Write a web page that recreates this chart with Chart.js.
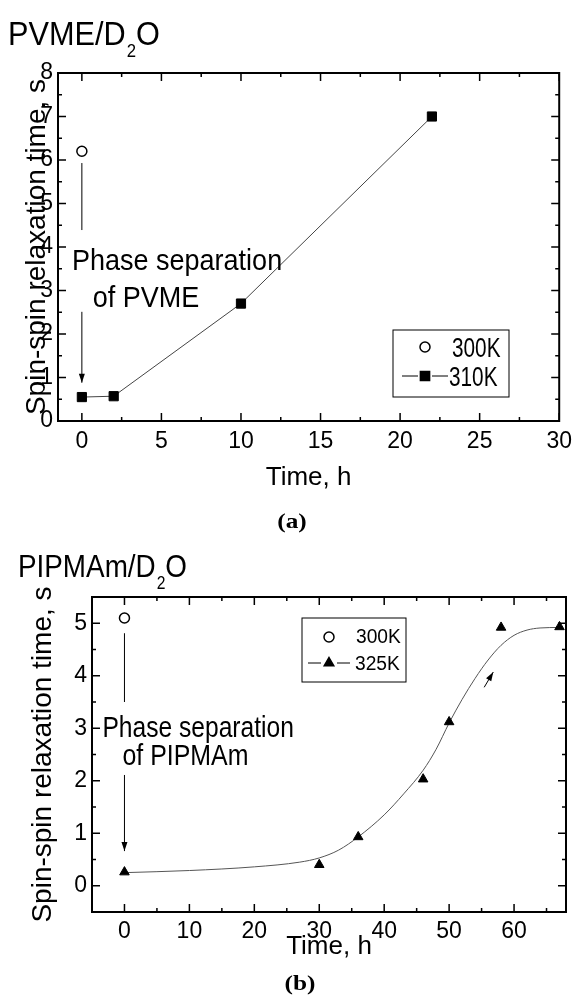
<!DOCTYPE html>
<html>
<head>
<meta charset="utf-8">
<title>Spin-spin relaxation time</title>
<script src="https://cdn.jsdelivr.net/npm/chart.js@4.4.1/dist/chart.umd.min.js"></script>
<style>
  body { margin: 0; background: #fff; }
  .panel { position: absolute; left: 0; width: 579px; }
  #panelA { top: 0; height: 540px; }
  #panelB { top: 540px; height: 461px; }
</style>
</head>
<body>
<div class="panel" id="panelA"><canvas id="chartA"></canvas></div>
<div class="panel" id="panelB"><canvas id="chartB"></canvas></div>
<script>
// (a) PVME/D2O
const timeA300 = [0];
const t2A300 = [6.2];
const timeA310 = [0, 2, 10, 22];
const t2A310 = [0.55, 0.57, 2.7, 7.0];
const xTicksA = [0, 5, 10, 15, 20, 25, 30];
const yTicksA = [0, 1, 2, 3, 4, 5, 6, 7, 8];

// (b) PIPMAm/D2O
const timeB300 = [0];
const t2B300 = [5.1];
const timeB325 = [0, 30, 36, 46, 50, 58, 67];
const t2B325 = [0.26, 0.4, 0.93, 2.03, 3.12, 4.92, 4.93];
// guide curve
const fitTimeB = [0, 10, 20, 27, 30, 33, 36, 40, 43, 46, 48, 50, 52, 54, 56, 58, 60, 62, 64, 67];
const fitT2B = [0.25, 0.29, 0.36, 0.45, 0.53, 0.68, 0.93, 1.35, 1.75, 2.2, 2.6, 3.1, 3.55, 3.95, 4.3, 4.58, 4.77, 4.87, 4.91, 4.92];
const xTicksB = [0, 10, 20, 30, 40, 50, 60];
const yTicksB = [0, 1, 2, 3, 4, 5];

const FONT = "'Liberation Sans', Arial, Helvetica, sans-serif";
const SERIF = "'Liberation Serif', 'Times New Roman', serif";

const pts = (xs, ys) => xs.map((x, i) => ({x: x, y: ys[i]}));
const useTicks = list => s => { s.ticks = list.map(v => ({value: v})); };

function minorOf(list, min, max) {
  const step = list[1] - list[0];
  const out = [];
  for (let v = list[0] - step / 2; v <= max + 1e-9; v += step) {
    if (v >= min - 1e-9) out.push(v);
  }
  return out;
}

function label(ctx, str, x, y, size, sx, opts) {
  opts = opts || {};
  ctx.save();
  ctx.font = (opts.bold ? 'bold ' : '') + size + 'px ' + (opts.family || FONT);
  ctx.fillStyle = '#000';
  ctx.textBaseline = 'alphabetic';
  ctx.textAlign = opts.align || 'left';
  ctx.translate(x, y);
  ctx.scale(sx, 1);
  ctx.fillText(str, 0, 0);
  const w = ctx.measureText(str).width * sx;
  ctx.restore();
  return w;
}

function panelTitle(ctx, main, x, y, size, sx) {
  const w1 = label(ctx, main, x, y, size, sx);
  const w2 = label(ctx, '2', x + w1 + 1, y + 12, Math.round(size * 0.55), sx);
  label(ctx, 'O', x + w1 + w2 + 1, y, size, sx);
}

function arrow(ctx, x1, y1, x2, y2, head) {
  ctx.save();
  ctx.strokeStyle = '#000';
  ctx.fillStyle = '#000';
  ctx.lineWidth = 1;
  ctx.beginPath();
  ctx.moveTo(x1, y1);
  ctx.lineTo(x2, y2);
  ctx.stroke();
  if (head) {
    ctx.translate(x2, y2);
    ctx.rotate(Math.atan2(y2 - y1, x2 - x1));
    ctx.beginPath();
    ctx.moveTo(0, 0);
    ctx.lineTo(-9, -3);
    ctx.lineTo(-9, 3);
    ctx.closePath();
    ctx.fill();
  }
  ctx.restore();
}

function marker(ctx, style, r, x, y, fill) {
  ctx.save();
  ctx.fillStyle = fill;
  ctx.strokeStyle = '#000';
  ctx.lineWidth = 1.5;
  ctx.beginPath();
  if (style === 'circle') {
    ctx.arc(x, y, r, 0, Math.PI * 2);
  } else if (style === 'rect') {
    const s = r * Math.SQRT1_2;
    ctx.rect(x - s, y - s, 2 * s, 2 * s);
  } else {
    ctx.moveTo(x, y - r);
    ctx.lineTo(x + r * 0.866, y + r / 2);
    ctx.lineTo(x - r * 0.866, y + r / 2);
    ctx.closePath();
  }
  ctx.fill();
  ctx.stroke();
  ctx.restore();
}

// legend: box plus rows {index, y, mx, tx, ty, line}
function legendBox(chart, box, rows, size, sx) {
  const ctx = chart.ctx;
  ctx.save();
  ctx.strokeStyle = '#000';
  ctx.lineWidth = 1;
  ctx.strokeRect(box.x, box.y, box.w, box.h);
  rows.forEach(r => {
    const ds = chart.data.datasets[r.index];
    if (r.line) {
      ctx.beginPath();
      ctx.moveTo(r.mx - r.line[1], r.y);
      ctx.lineTo(r.mx - r.line[0], r.y);
      ctx.moveTo(r.mx + r.line[0], r.y);
      ctx.lineTo(r.mx + r.line[1], r.y);
      ctx.stroke();
    }
    marker(ctx, ds.pointStyle, ds.pointRadius, r.mx, r.y, ds.pointBackgroundColor);
    label(ctx, ds.label, r.tx, r.ty, size, sx);
  });
  ctx.restore();
}

const frame = {
  id: 'frame',
  beforeDatasetsDraw(chart) {
    const {ctx, chartArea: a, scales: {x, y}} = chart;
    const xMaj = x.ticks.map(t => t.value);
    const yMaj = y.ticks.map(t => t.value);
    ctx.save();
    ctx.strokeStyle = '#000';
    ctx.lineWidth = 1.5;
    ctx.beginPath();
    [[xMaj, 8], [minorOf(xMaj, x.min, x.max), 4]].forEach(([vals, len]) => vals.forEach(v => {
      const px = x.getPixelForValue(v);
      ctx.moveTo(px, a.bottom); ctx.lineTo(px, a.bottom - len);
      ctx.moveTo(px, a.top); ctx.lineTo(px, a.top + len);
    }));
    [[yMaj, 8], [minorOf(yMaj, y.min, y.max), 4]].forEach(([vals, len]) => vals.forEach(v => {
      const py = y.getPixelForValue(v);
      ctx.moveTo(a.left, py); ctx.lineTo(a.left + len, py);
      ctx.moveTo(a.right, py); ctx.lineTo(a.right - len, py);
    }));
    ctx.stroke();
    ctx.lineWidth = 2;
    ctx.strokeRect(a.left, a.top, a.right - a.left, a.bottom - a.top);
    ctx.restore();
  }
};

function axes(xMin, xMax, xTicks, yMin, yMax, yTicks, xHeight, yWidth, yTitlePad, xTitlePad, tickPad) {
  return {
    x: {
      type: 'linear', min: xMin, max: xMax,
      afterBuildTicks: useTicks(xTicks),
      afterFit: s => { s.height = xHeight; },
      grid: {display: false, drawTicks: false},
      border: {display: false},
      ticks: {color: '#000', font: {family: FONT, size: 23}, padding: tickPad, maxRotation: 0},
      title: {display: true, text: 'Time, h', color: '#000', font: {family: FONT, size: 26}, padding: {top: 0, bottom: xTitlePad}}
    },
    y: {
      type: 'linear', min: yMin, max: yMax,
      afterBuildTicks: useTicks(yTicks),
      afterFit: s => { s.width = yWidth; },
      grid: {display: false, drawTicks: false},
      border: {display: false},
      ticks: {color: '#000', font: {family: FONT, size: 23}, padding: 5},
      title: {display: true, text: 'Spin-spin relaxation time, s', color: '#000', font: {family: FONT, size: 28}, padding: {top: yTitlePad, bottom: 0}}
    }
  };
}

const common = {
  responsive: true,
  maintainAspectRatio: false,
  animation: false,
  plugins: {legend: {display: false}, tooltip: {enabled: false}}
};

// ---------- (a) ----------
new Chart(document.getElementById('chartA'), {
  type: 'scatter',
  data: {
    datasets: [
      {label: '300K', data: pts(timeA300, t2A300), pointStyle: 'circle', pointRadius: 5,
       pointBackgroundColor: '#fff', pointBorderColor: '#000', pointBorderWidth: 1.5, showLine: false},
      {label: '310K', data: pts(timeA310, t2A310), pointStyle: 'rect', pointRadius: 6.5,
       pointBackgroundColor: '#000', pointBorderColor: '#000', pointBorderWidth: 1,
       showLine: true, borderColor: '#444', borderWidth: 1, tension: 0}
    ]
  },
  options: Object.assign({}, common, {
    layout: {padding: {left: 0, top: 73, right: 12, bottom: 40}},
    scales: axes(-1.5, 30, xTicksA, 0, 8, yTicksA, 79, 58, 20, 7, 7)
  }),
  plugins: [frame, {
    id: 'notesA',
    afterDraw(chart) {
      const {ctx, scales: {x, y}} = chart;
      const x0 = x.getPixelForValue(0);
      arrow(ctx, x0, y.getPixelForValue(5.93), x0, y.getPixelForValue(4.39), false);
      label(ctx, 'Phase separation', x.getPixelForValue(-0.62), y.getPixelForValue(3.47), 30, 0.9);
      label(ctx, 'of PVME', x.getPixelForValue(0.68), y.getPixelForValue(2.62), 30, 0.9);
      arrow(ctx, x0, y.getPixelForValue(2.51), x0, y.getPixelForValue(0.88), true);
      legendBox(chart, {x: 393, y: 330, w: 116, h: 67}, [
        {index: 0, y: 347, mx: 425, tx: 452, ty: 357},
        {index: 1, y: 376, mx: 425, tx: 449, ty: 386, line: [7, 23]}
      ], 27, 0.77);
      panelTitle(ctx, 'PVME/D', 8, 45, 33, 0.93);
      label(ctx, '(a)', 292, 528, 22, 1.15, {bold: true, family: SERIF, align: 'center'});
    }
  }]
});

// ---------- (b) ----------
new Chart(document.getElementById('chartB'), {
  type: 'scatter',
  data: {
    datasets: [
      {label: '300K', data: pts(timeB300, t2B300), pointStyle: 'circle', pointRadius: 5,
       pointBackgroundColor: '#fff', pointBorderColor: '#000', pointBorderWidth: 1.5, showLine: false},
      {label: '325K', data: pts(timeB325, t2B325), pointStyle: 'triangle', pointRadius: 5.5,
       pointBackgroundColor: '#000', pointBorderColor: '#000', pointBorderWidth: 1, showLine: false},
      {label: 'fit', data: pts(fitTimeB, fitT2B), pointRadius: 0, showLine: true,
       borderColor: '#555', borderWidth: 1, cubicInterpolationMode: 'monotone'}
    ]
  },
  options: Object.assign({}, common, {
    layout: {padding: {left: 0, top: 57, right: 13, bottom: 39}},
    scales: axes(-5, 68, xTicksB, -0.5, 5.5, yTicksB, 50, 92, 26, 0, 6)
  }),
  plugins: [frame, {
    id: 'notesB',
    afterDraw(chart) {
      const {ctx, scales: {x, y}} = chart;
      const x0 = x.getPixelForValue(0);
      arrow(ctx, x0, y.getPixelForValue(4.81), x0, y.getPixelForValue(3.5), false);
      label(ctx, 'Phase separation', x.getPixelForValue(-3.4), y.getPixelForValue(2.83), 30, 0.82);
      label(ctx, 'of PIPMAm', x.getPixelForValue(-0.3), y.getPixelForValue(2.3), 30, 0.83);
      arrow(ctx, x0, y.getPixelForValue(2.11), x0, y.getPixelForValue(0.66), true);
      arrow(ctx, x.getPixelForValue(55.4), y.getPixelForValue(3.78), x.getPixelForValue(56.8), y.getPixelForValue(4.07), true);
      legendBox(chart, {x: 302, y: 78, w: 104, h: 64}, [
        {index: 0, y: 97, mx: 329, tx: 356, ty: 103},
        {index: 1, y: 123, mx: 329, tx: 355, ty: 130, line: [8, 21]}
      ], 20, 0.96);
      panelTitle(ctx, 'PIPMAm/D', 18, 37, 32, 0.87);
      label(ctx, '(b)', 300, 450, 22, 1.15, {bold: true, family: SERIF, align: 'center'});
    }
  }]
});
</script>
</body>
</html>
